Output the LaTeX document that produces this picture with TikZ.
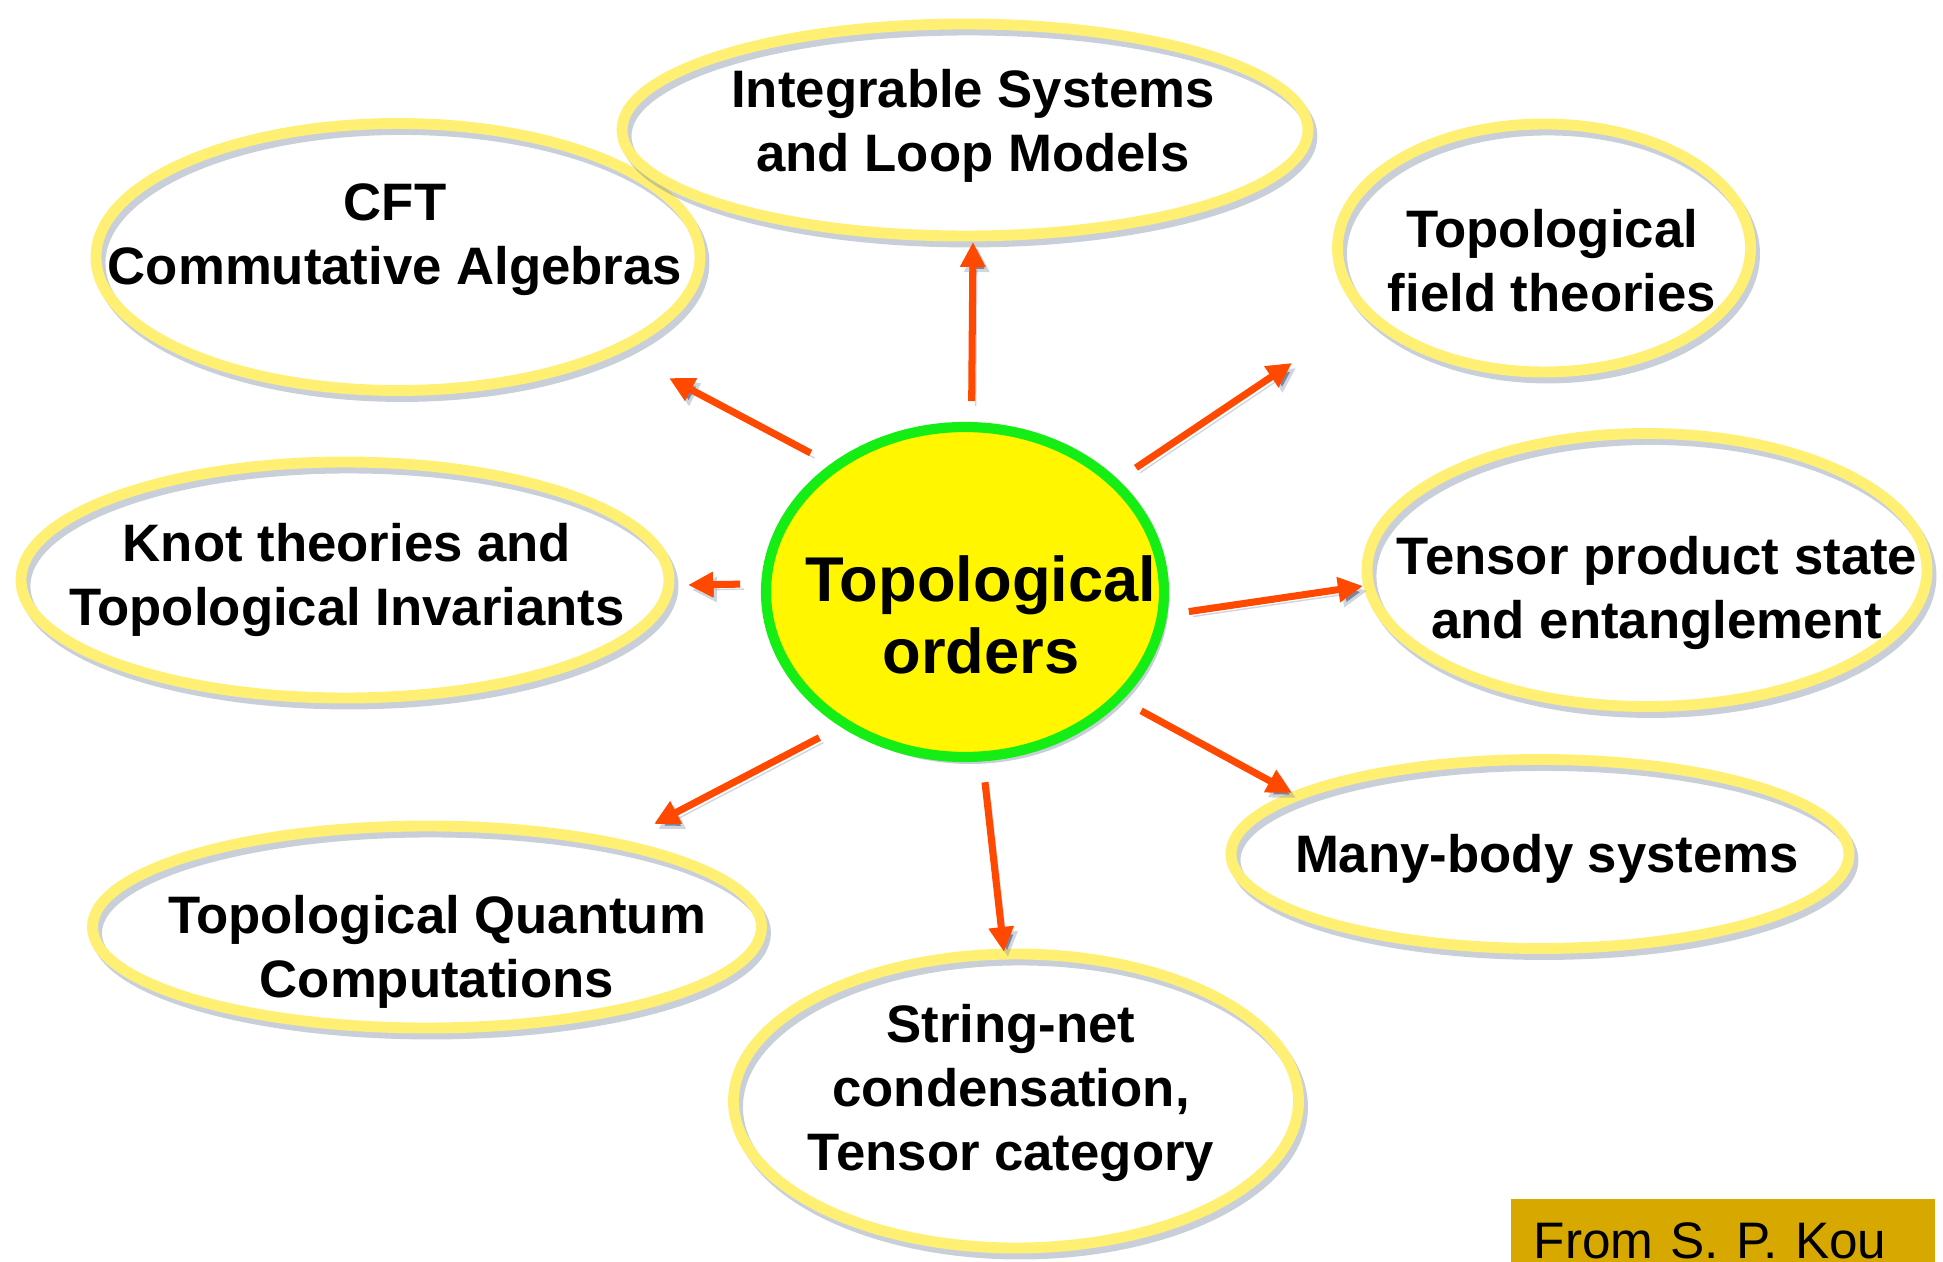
\documentclass[tikz,border=0pt]{standalone}
\usepackage{fontspec}
\setmainfont{Liberation Sans}
\usepackage{xcolor}
\usepackage{tikz}
\usetikzlibrary{arrows.meta,shapes.geometric}

\definecolor{ringyellow}{RGB}{255,240,115}
\definecolor{hubyellow}{RGB}{255,246,0}
\definecolor{hubgreen}{RGB}{20,238,20}
\definecolor{spokered}{RGB}{255,72,0}
\definecolor{shadowblue}{RGB}{120,135,160}
\definecolor{kougold}{RGB}{214,168,0}

\tikzset{
  ring/.style={ellipse, draw=ringyellow, line width=3.1pt, inner sep=0pt,
    preaction={draw=shadowblue, draw opacity=0.4,
      transform canvas={shift={(0.04,-0.06)}}}},
  ringtext/.style={align=center, font=\fontsize{15}{18.3}\selectfont\bfseries},
  hub/.style={ellipse, draw=hubgreen, fill=hubyellow, line width=2.9pt,
    inner sep=0pt, outer sep=0.26cm,
    preaction={fill=shadowblue, fill opacity=0.4,
      transform canvas={shift={(0.05,-0.07)}}}},
  hubtext/.style={align=center, font=\fontsize{18}{20.4}\selectfont\bfseries},
  spoke/.style={-{Triangle[length=2.5mm,width=2.4mm]}, draw=spokered,
    line width=2pt,
    preaction={draw=shadowblue, draw opacity=0.35,
      transform canvas={shift={(0.04,-0.05)}}}},
}

\begin{document}
\begin{tikzpicture}
  \path[use as bounding box, clip] (0,0) rectangle (19.43,12.61);

  % Outer topics
  \node[ring, minimum width=6.04cm, minimum height=2.67cm] (cft) at (3.98,10.04) {};
  \node[ringtext] (cft-t) at (3.95,10.21) {CFT\\Commutative Algebras};

  \node[ring, minimum width=6.86cm, minimum height=2.12cm] (integ) at (9.65,11.31) {};
  \node[ringtext] (integ-t) at (9.73,11.35) {Integrable Systems\\and Loop Models};

  \node[ring, minimum width=4.13cm, minimum height=2.48cm] (tft) at (15.44,10.13) {};
  \node[ringtext] (tft-t) at (15.52,10.00) {Topological\\field theories};

  \node[ring, minimum width=6.48cm, minimum height=2.36cm] (knot) at (3.45,6.81) {};
  \node[ringtext] (knot-t) at (3.47,6.81) {Knot theories and\\Topological Invariants};

  \node[ring, minimum width=5.60cm, minimum height=2.73cm] (tensor) at (16.47,6.91) {};
  \node[ringtext] (tensor-t) at (16.57,6.68) {Tensor product state\\and entanglement};

  \node[ring, minimum width=6.18cm, minimum height=1.89cm] (many) at (15.40,4.07) {};
  \node[ringtext] (many-t) at (15.47,4.02) {Many-body systems};

  \node[ring, minimum width=6.69cm, minimum height=2.02cm] (tqc) at (4.27,3.34) {};
  \node[ringtext] (tqc-t) at (4.37,3.09) {Topological Quantum\\Computations};

  \node[ring, minimum width=5.65cm, minimum height=2.94cm] (string) at (10.16,1.60) {};
  \node[ringtext] (string-t) at (10.11,1.68) {String-net\\condensation,\\Tensor category};

  % Hub
  \node[hub, minimum width=3.98cm, minimum height=3.30cm] (hub) at (9.65,6.69) {};
  \node[hubtext] (hub-t) at (9.81,6.46) {Topological\\orders};

  % Arrow tips
  \coordinate (tip-integ)  at (9.73,10.19);
  \coordinate (tip-cft)    at (6.69,8.83);
  \coordinate (tip-tft)    at (12.92,8.98);
  \coordinate (tip-knot)   at (6.88,6.76);
  \coordinate (tip-tensor) at (13.63,6.75);
  \coordinate (tip-many)   at (12.92,4.68);
  \coordinate (tip-string) at (10.04,3.09);
  \coordinate (tip-tqc)    at (6.54,4.37);

  \draw[spoke] (hub.88)  -- (tip-integ);
  \draw[spoke] (hub.138) -- (tip-cft);
  \draw[spoke] (hub.36)  -- (tip-tft);
  \draw[spoke] (hub.178) -- (tip-knot);
  \draw[spoke] (hub.355) -- (tip-tensor);
  \draw[spoke] (hub.326) -- (tip-many);
  \draw[spoke] (hub.276) -- (tip-string);
  \draw[spoke] (hub.225) -- (tip-tqc);

  % Source tag, cut by the lower edge
  \node[fill=kougold, inner sep=0.23cm, text width=3.78cm, align=left,
        anchor=base west, font=\fontsize{14.6}{17}\selectfont]
    (kou) at (15.10,0.03) {From S.\ P.\ Kou};
\end{tikzpicture}
\end{document}
